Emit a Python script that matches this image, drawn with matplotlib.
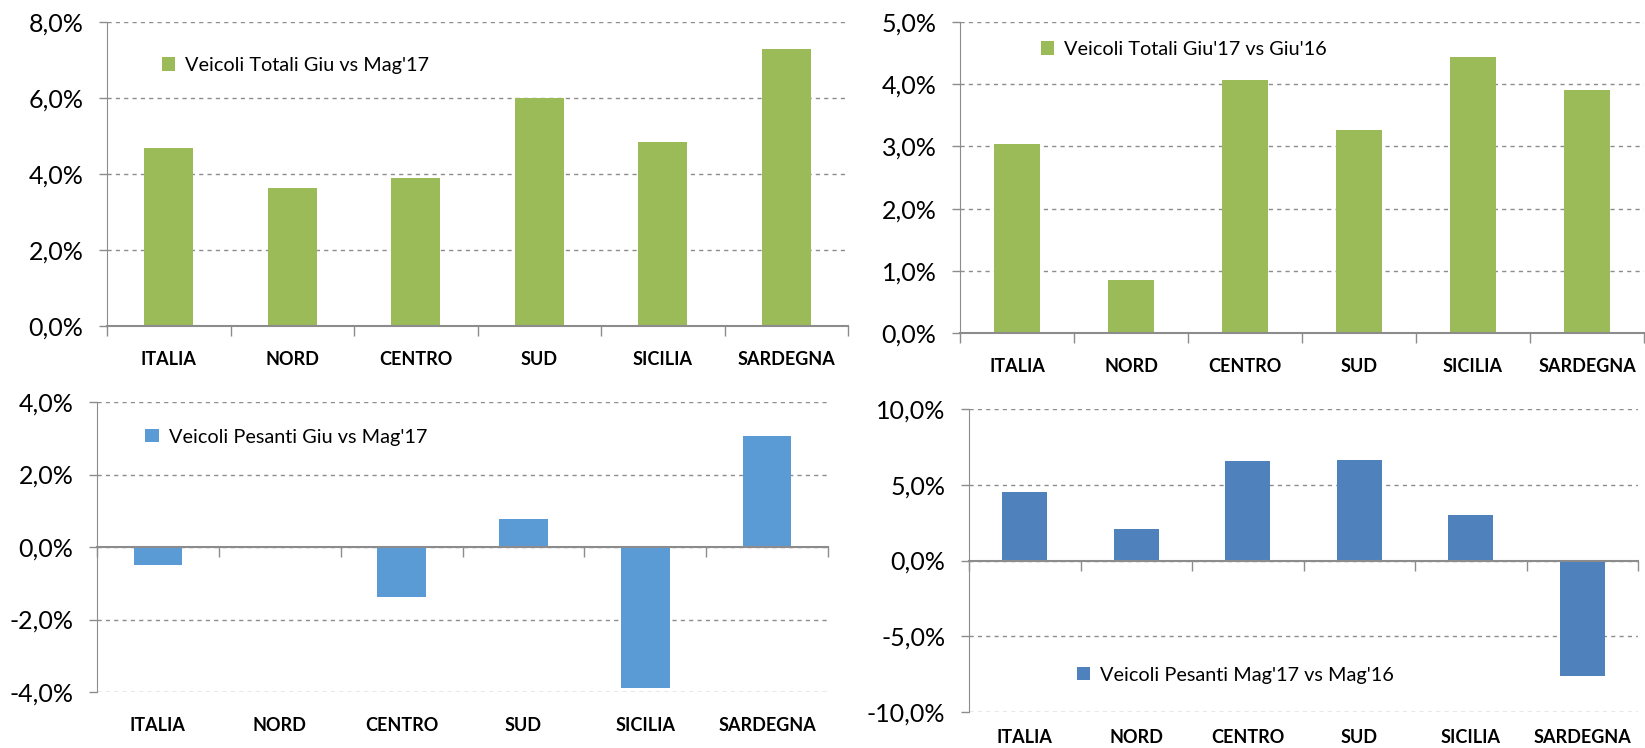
import matplotlib
matplotlib.use("Agg")
import matplotlib.pyplot as plt
from matplotlib.ticker import FixedLocator, FuncFormatter

regions = ["ITALIA", "NORD", "CENTRO", "SUD", "SICILIA", "SARDEGNA"]

totali_mese = [4.68, 3.64, 3.89, 6.00, 4.85, 7.29]
totali_anno = [3.04, 0.86, 4.07, 3.26, 4.44, 3.91]
pesanti_mese = [-0.49, 0.02, -1.39, 0.76, -3.90, 3.05]
pesanti_anno = [4.53, 2.07, 6.55, 6.62, 3.01, -7.63]

plt.rcParams["font.family"] = ["Lato", "DejaVu Sans"]

GRID = "#8c8c8c"
W, H = 1645, 748


def pct(v, pos):
    return f"{v:.1f}%".replace(".", ",")


def panel(fig, rect_px, values, color, ylim, step, label, leg_xy, xpad=18):
    l, r, t, b = rect_px
    ax = fig.add_axes([l / W, 1 - b / H, (r - l) / W, (b - t) / H])
    x = range(len(regions))
    bars = ax.bar(x, values, width=0.4, color=color, label=label, zorder=3)
    ax.set_xlim(-0.5, len(regions) - 0.5)
    ax.set_ylim(*ylim)
    ticks = []
    v = ylim[0]
    while v <= ylim[1] + 1e-9:
        ticks.append(v)
        v += step
    ax.yaxis.set_major_locator(FixedLocator(ticks))
    ax.yaxis.set_major_formatter(FuncFormatter(pct))
    ax.tick_params(axis="y", length=6, width=1, color=GRID, pad=11, labelsize=18)
    ax.yaxis.grid(True, color=GRID, linestyle=(0, (3, 3)), linewidth=1, zorder=0)
    for s in ("top", "right"):
        ax.spines[s].set_visible(False)
    ax.spines["left"].set_color(GRID)
    ax.spines["bottom"].set_color(GRID)
    ax.spines["bottom"].set_linewidth(1.5)
    ax.spines["bottom"].set_position(("data", 0))
    ax.spines["bottom"].set_zorder(4)
    # boundary ticks on the zero line, labels at the bottom
    ax.set_xticks([i - 0.5 for i in range(len(regions) + 1)])
    ax.set_xticklabels([])
    ax.tick_params(axis="x", length=7, width=1, color=GRID)
    sec = ax.secondary_xaxis(0)
    sec.set_xticks(list(x))
    sec.set_xticklabels(regions, fontweight="bold", fontsize=13)
    sec.tick_params(length=0, pad=xpad)
    sec.spines["bottom"].set_visible(False)
    ax.legend(handles=[bars], loc="center left", bbox_to_anchor=leg_xy,
              frameon=False, fontsize=14.3, handlelength=0.68, handleheight=0.68,
              handletextpad=0.5, borderpad=0, borderaxespad=0)
    return ax


fig = plt.figure(figsize=(W / 100, H / 100), dpi=100)

panel(fig, (107, 848, 22, 326), totali_mese, "#9bbb59", (0, 8), 2,
      "Veicoli Totali Giu vs Mag'17", (0.074, 0.856))
panel(fig, (960, 1644, 22, 333), totali_anno, "#9bbb59", (0, 5), 1,
      "Veicoli Totali Giu'17 vs Giu'16", (0.118, 0.912))
panel(fig, (97, 828, 402, 692), pesanti_mese, "#5b9bd5", (-4, 4), 2,
      "Veicoli Pesanti Giu vs Mag'17", (0.066, 0.879))
panel(fig, (969, 1638, 409, 712), pesanti_anno, "#4f81bd", (-10, 10), 5,
      "Veicoli Pesanti Mag'17 vs Mag'16", (0.161, 0.122), xpad=12)

fig.savefig("out.png", dpi=100)
plt.close(fig)
